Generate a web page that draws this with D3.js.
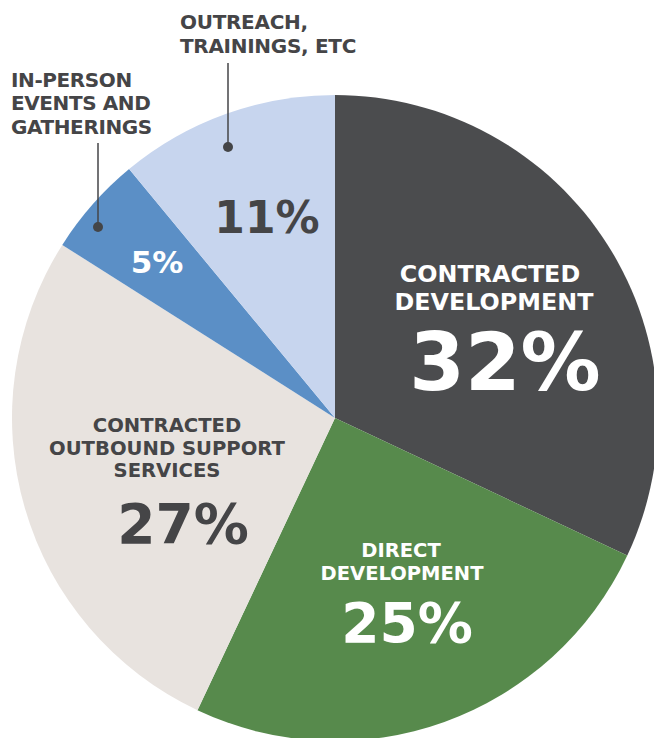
<!DOCTYPE html>
<html>
<head>
<meta charset="utf-8">
<script src="https://cdn.jsdelivr.net/npm/d3@7"></script>
<style>
  html, body { margin: 0; padding: 0; background: #ffffff; }
  svg { display: block; }
  text { font-family: "DejaVu Sans", sans-serif; font-weight: 700; }
</style>
</head>
<body>
<svg id="chart" width="654" height="738"></svg>
<script>
// ---- data ----
const categories = [
  "CONTRACTED DEVELOPMENT",
  "DIRECT DEVELOPMENT",
  "CONTRACTED OUTBOUND SUPPORT SERVICES",
  "IN-PERSON EVENTS AND GATHERINGS",
  "OUTREACH, TRAININGS, ETC"
];
const values = [32, 25, 27, 5, 11];
const valueLabels = ["32%", "25%", "27%", "5%", "11%"];
const colors = ["#4b4c4e", "#578a4c", "#e8e3df", "#5b8fc6", "#c7d5ee"];

// ---- layout (positions / styles) ----
const W = 654, H = 738;
const cx = 335, cy = 418, R = 323;

const svg = d3.select("#chart");
const pie = d3.pie().sort(null).value(d => d)(values);
const arc = d3.arc().innerRadius(0).outerRadius(R);

const g = svg.append("g").attr("transform", `translate(${cx},${cy})`);
g.selectAll("path.slice")
  .data(pie)
  .join("path")
  .attr("class", "slice")
  .attr("d", arc)
  .attr("fill", (d, i) => colors[i]);

// inside labels: name lines + value, positions in absolute px
const inside = [
  { i: 0, color: "#ffffff", nameSize: 23.8, lines: [["CONTRACTED", 490, 282], ["DEVELOPMENT", 494, 310]], val: [505, 390, 80] },
  { i: 1, color: "#ffffff", nameSize: 19.5, lines: [["DIRECT", 401, 557], ["DEVELOPMENT", 402, 580]], val: [407, 642, 55] },
  { i: 2, color: "#454547", nameSize: 19.6, lines: [["CONTRACTED", 167, 432], ["OUTBOUND SUPPORT", 167, 455], ["SERVICES", 167, 477]], val: [183, 543, 55] },
  { i: 3, color: "#ffffff", nameSize: 0, lines: [], val: [157, 273, 31] },
  { i: 4, color: "#454547", nameSize: 0, lines: [], val: [267, 233, 44] }
];

inside.forEach(s => {
  s.lines.forEach(([t, x, y]) => {
    svg.append("text")
      .attr("x", x).attr("y", y)
      .attr("text-anchor", "middle")
      .attr("font-size", s.nameSize)
      .attr("fill", s.color)
      .text(t);
  });
  svg.append("text")
    .attr("x", s.val[0]).attr("y", s.val[1])
    .attr("text-anchor", "middle")
    .attr("font-size", s.val[2])
    .attr("fill", s.color)
    .text(valueLabels[s.i]);
});

// outside labels with leader lines
const outside = [
  { lines: [["OUTREACH,", 29], ["TRAININGS, ETC", 52.5]], x: 180, size: 20, ls: -0.3, lineX: 228, y1: 63, y2: 147 },
  { lines: [["IN-PERSON", 86.5], ["EVENTS AND", 110.3], ["GATHERINGS", 134]], x: 11, size: 20, ls: -0.4, lineX: 98, y1: 143, y2: 227 }
];
outside.forEach(o => {
  o.lines.forEach(([t, y]) => {
    svg.append("text")
      .attr("x", o.x).attr("y", y)
      .attr("font-size", o.size)
      .attr("letter-spacing", o.ls)
      .attr("fill", "#454547")
      .text(t);
  });
  svg.append("line")
    .attr("x1", o.lineX).attr("x2", o.lineX)
    .attr("y1", o.y1).attr("y2", o.y2)
    .attr("stroke", "#444547").attr("stroke-width", 1.5);
  svg.append("circle")
    .attr("cx", o.lineX).attr("cy", o.y2).attr("r", 5)
    .attr("fill", "#444547");
});
</script>
</body>
</html>
